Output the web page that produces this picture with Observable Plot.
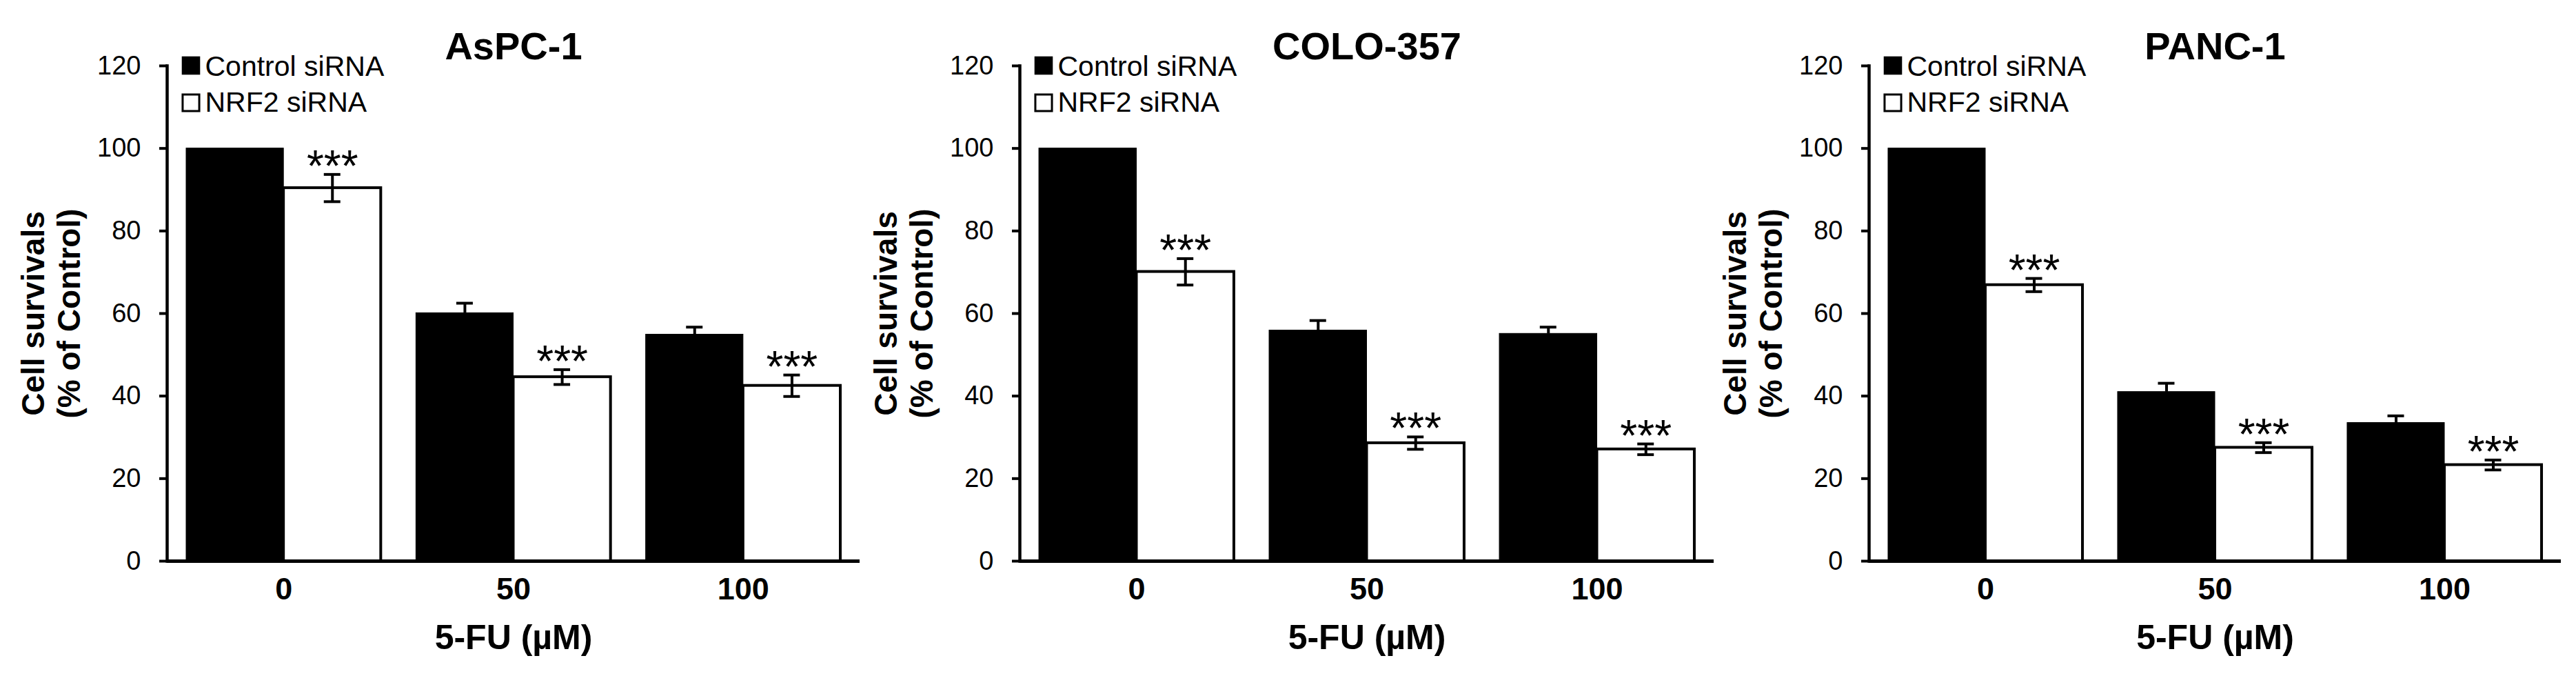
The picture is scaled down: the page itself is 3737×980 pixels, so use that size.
<!DOCTYPE html>
<html><head><meta charset="utf-8">
<script src="https://cdn.jsdelivr.net/npm/d3@7"></script>
<script src="https://cdn.jsdelivr.net/npm/@observablehq/plot@0.6"></script>
<style>
html,body{margin:0;padding:0;background:#fff;}
#root{position:relative;width:3737px;height:980px;overflow:hidden;background:#fff;}
#root>.panel{position:absolute;top:0;}
</style></head><body><div id="root"></div>
<script>
// ---- data ----
const doses = ["0", "50", "100"];
const seriesNames = ["Control siRNA", "NRF2 siRNA"];
const seriesFills = ["black", "white"];
const panelTitles = ["AsPC-1", "COLO-357", "PANC-1"];
const controlValues = [[100, 60.1, 54.9], [100, 55.9, 55.1], [100, 41.0, 33.5]];
const controlErrors = [[0, 2.4, 1.8], [0, 2.4, 1.6], [0, 2.1, 1.7]];
const nrf2Values = [[90.4, 44.6, 42.5], [70.1, 28.6, 27.1], [66.9, 27.5, 23.3]];
const nrf2Errors = [[3.3, 1.8, 2.6], [3.2, 1.5, 1.3], [1.6, 1.2, 1.2]];
const significance = [["***", "***", "***"], ["***", "***", "***"], ["***", "***", "***"]];
const yTicks = [0, 20, 40, 60, 80, 100, 120];
const yTitle = "Cell survivals\n(% of Control)";
const xTitle = "5-FU (µM)";

// ---- layout ----
const layout = [
  {left: 0, width: 1250, ml: 242, mr: 3},
  {left: 1250, width: 1240, ml: 229, mr: 4},
  {left: 2490, width: 1247, ml: 221, mr: 22}
];
const H = 980, MT = 95, MB = 167;
const FONT = "'Liberation Sans', Arial, Helvetica, sans-serif";

const root = document.getElementById("root");

function build(p) {
  const L = layout[p];
  const xOpts = {type: "band", domain: doses, paddingInner: 0.153, paddingOuter: 0.084, round: false};
  const bw = Plot.scale({x: {...xOpts, range: [L.ml, L.width - L.mr]}}).bandwidth;
  const rows = doses.map((d, i) => ({
    dose: d,
    ctrl: controlValues[p][i], ctrlErr: controlErrors[p][i],
    nrf: nrf2Values[p][i], nrfErr: nrf2Errors[p][i],
    sig: significance[p][i]
  }));
  const ctrlErrRows = rows.filter(d => d.ctrlErr > 0);
  const capHalf = 12;

  const legendMarks = seriesNames.flatMap((name, i) => [
    Plot.dot([name], {frameAnchor: "top-left", dx: 34.5, dy: -0.5 + i * 54, symbol: "square",
      r: i === 0 ? 15 : 13.6, fill: seriesFills[i], stroke: "black", strokeWidth: i === 0 ? 0 : 3}),
    Plot.text([name], {text: d => d, frameAnchor: "top-left", dx: 55, dy: 14 + i * 52,
      textAnchor: "start", lineAnchor: "bottom", fontSize: 41})
  ]);

  const chart = Plot.plot({
    width: L.width, height: H,
    marginLeft: L.ml, marginRight: L.mr, marginTop: MT, marginBottom: MB,
    x: xOpts,
    y: {domain: [0, 120]},
    style: {fontFamily: FONT, color: "black", background: "transparent", overflow: "visible"},
    marks: [
      Plot.barY(rows, {x: "dose", y: "ctrl", fill: "black", stroke: "black", strokeWidth: 1, insetRight: bw / 2}),
      Plot.barY(rows, {x: "dose", y: "nrf", fill: "white", stroke: "black", strokeWidth: 4, insetLeft: bw / 2}),
      // error bars
      Plot.ruleX(ctrlErrRows, {x: "dose", y1: "ctrl", y2: d => d.ctrl + d.ctrlErr, dx: -bw / 4, strokeWidth: 4}),
      Plot.tickY(ctrlErrRows, {x: "dose", y: d => d.ctrl + d.ctrlErr, insetLeft: bw / 4 - capHalf, insetRight: 3 * bw / 4 - capHalf, strokeWidth: 4}),
      Plot.ruleX(rows, {x: "dose", y1: d => d.nrf - d.nrfErr, y2: d => d.nrf + d.nrfErr, dx: bw / 4, strokeWidth: 4}),
      Plot.tickY(rows, {x: "dose", y: d => d.nrf + d.nrfErr, insetLeft: 3 * bw / 4 - capHalf, insetRight: bw / 4 - capHalf, strokeWidth: 4}),
      Plot.tickY(rows, {x: "dose", y: d => d.nrf - d.nrfErr, insetLeft: 3 * bw / 4 - capHalf, insetRight: bw / 4 - capHalf, strokeWidth: 4}),
      // significance
      Plot.text(rows, {x: "dose", y: d => d.nrf + d.nrfErr, text: "sig", dx: bw / 4, dy: 10,
        lineAnchor: "bottom", textAnchor: "middle", fontSize: 64}),
      // axes
      Plot.frame({anchor: "left", strokeWidth: 4.5}),
      Plot.ruleY([0], {strokeWidth: 5}),
      Plot.axisY({ticks: yTicks, tickSize: 11, tickPadding: 27, strokeWidth: 4, fontSize: 38, label: null, tickFormat: d => String(d)}),
      Plot.axisX({tickSize: 0, tickPadding: 24, fontSize: 45, fontWeight: "bold", label: null}),
      Plot.text([yTitle], {text: d => d, frameAnchor: "left", rotate: -90, dx: -168.7, textAnchor: "middle",
        lineAnchor: "middle", lineHeight: 1.13, fontSize: 46, fontWeight: "bold"}),
      Plot.text([xTitle], {text: d => d, frameAnchor: "bottom", dy: 127, textAnchor: "middle",
        lineAnchor: "bottom", fontSize: 50, fontWeight: "bold"}),
      Plot.text([panelTitles[p]], {text: d => d, frameAnchor: "top", dy: -10, textAnchor: "middle",
        lineAnchor: "bottom", fontSize: 56, fontWeight: "bold"}),
      ...legendMarks
    ]
  });
  const wrap = document.createElement("div");
  wrap.className = "panel";
  wrap.style.left = L.left + "px";
  wrap.appendChild(chart);
  root.appendChild(wrap);
}

panelTitles.forEach((t, p) => build(p));
</script>
</body></html>
